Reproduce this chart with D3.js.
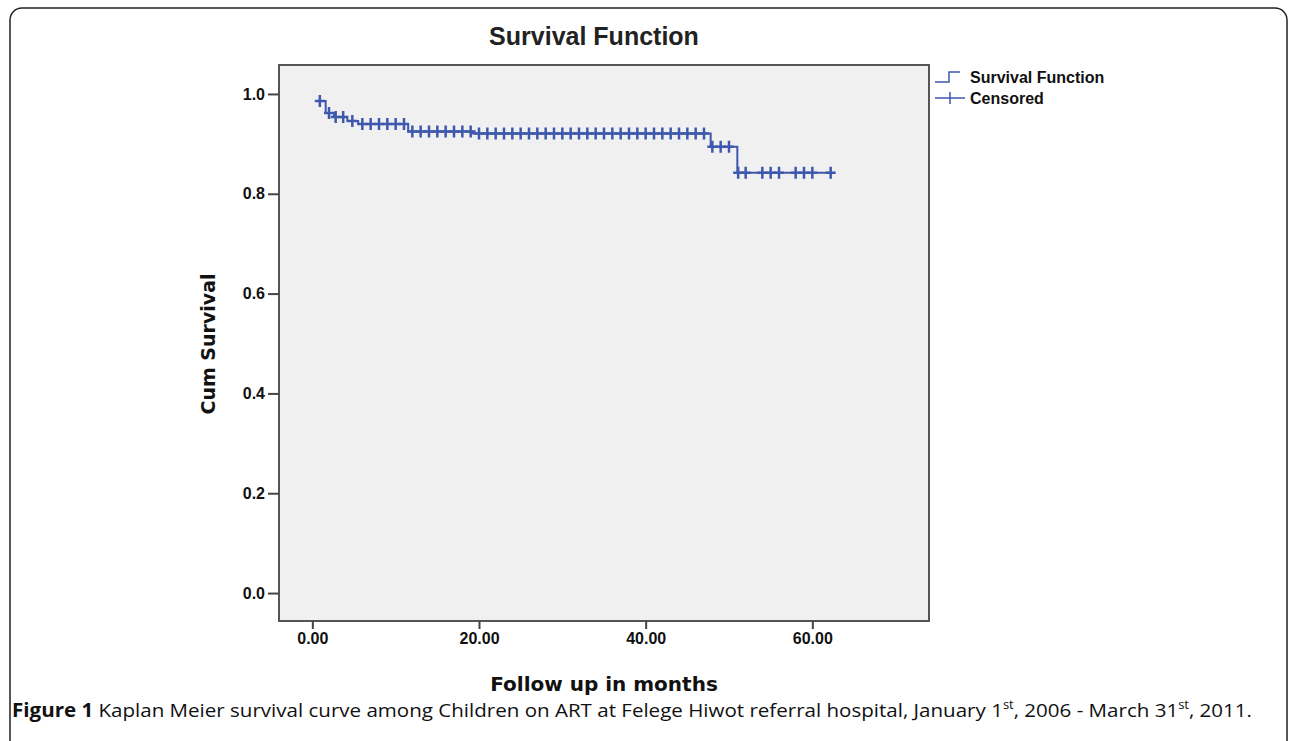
<!DOCTYPE html>
<html>
<head>
<meta charset="utf-8">
<script src="https://cdn.jsdelivr.net/npm/d3@7"></script>
<style>
  body { margin: 0; background: #fff; }
  svg { display: block; }
</style>
</head>
<body>
<div id="chart"></div>
<script>
// survival curve: time (months) where the step lands, and the value after it
const stepTimes = [0.8, 1.6, 2.6, 4.2, 5.5, 11.5, 19.2, 47.8, 51.0];
const stepSurv = [0.986, 0.962, 0.954, 0.946, 0.940, 0.925, 0.921, 0.894, 0.842];
const endTime = 62.2;

// censored observations (months)
const censored = [0.9, 2.0, 2.8, 3.7, 4.8, 6, 7, 8, 9, 10, 11, 12, 13, 14, 15, 16, 17, 18, 19, 20,
  21, 22, 23, 24, 25, 26, 27, 28, 29, 30, 31, 32, 33, 34, 35, 36, 37, 38, 39, 40,
  41, 42, 43, 44, 45, 46, 47, 48, 49, 50, 51.1, 52, 54, 55, 56, 58, 59, 60, 62.2];

const xTicks = [0, 20, 40, 60];
const yTicks = [0.0, 0.2, 0.4, 0.6, 0.8, 1.0];

const width = 1290, height = 741;
const plot = { left: 279, right: 929, top: 65, bottom: 621 };
const blue = "#3d58ad";

const svg = d3.select("#chart").append("svg")
  .attr("width", width)
  .attr("height", height);

// outer frame
svg.append("rect")
  .attr("x", 10).attr("y", 8)
  .attr("width", 1277).attr("height", 780)
  .attr("rx", 12)
  .attr("fill", "none")
  .attr("stroke", "#222")
  .attr("stroke-width", 1.5);

const x = d3.scaleLinear().domain([-4, 74]).range([plot.left, plot.right]);
const y = d3.scaleLinear().domain([-0.056, 1.058]).range([plot.bottom, plot.top]);

// plot background
svg.append("rect")
  .attr("x", plot.left).attr("y", plot.top)
  .attr("width", plot.right - plot.left)
  .attr("height", plot.bottom - plot.top)
  .attr("fill", "#f0f0f0")
  .attr("stroke", "#555")
  .attr("stroke-width", 2);

// axes
const yAxis = svg.append("g")
  .attr("transform", `translate(${plot.left},0)`)
  .call(d3.axisLeft(y).tickValues(yTicks).tickFormat(d3.format(".1f")).tickSize(11).tickPadding(3));
const xAxis = svg.append("g")
  .attr("transform", `translate(0,${plot.bottom})`)
  .call(d3.axisBottom(x).tickValues(xTicks).tickFormat(d3.format(".2f")).tickSize(8).tickPadding(4));

[yAxis, xAxis].forEach(function(g) {
  g.select(".domain").remove();
  g.selectAll(".tick line").attr("stroke", "#444").attr("stroke-width", 2);
  g.selectAll(".tick text")
    .attr("fill", "#111")
    .style("font-family", "Liberation Sans, Arial, sans-serif")
    .style("font-size", "16px")
    .style("font-weight", "bold");
});

// step function
function survAt(t) {
  let s = stepSurv[0];
  for (let i = 0; i < stepTimes.length; i++) {
    if (t >= stepTimes[i]) s = stepSurv[i];
  }
  return s;
}

const pts = [[stepTimes[0], stepSurv[0]]];
for (let i = 1; i < stepTimes.length; i++) {
  pts.push([stepTimes[i], stepSurv[i - 1]]);
  pts.push([stepTimes[i], stepSurv[i]]);
}
pts.push([endTime, stepSurv[stepSurv.length - 1]]);

const line = d3.line().x(d => x(d[0])).y(d => y(d[1]));

svg.append("path")
  .datum(pts)
  .attr("d", line)
  .attr("fill", "none")
  .attr("stroke", blue)
  .attr("stroke-width", 2);

// censored crosses
svg.append("g").selectAll("path")
  .data(censored)
  .join("path")
  .attr("d", function(t) {
    const cx = x(t), cy = y(survAt(t));
    return `M${cx - 5},${cy}H${cx + 5}M${cx},${cy - 6}V${cy + 6}`;
  })
  .attr("stroke", blue)
  .attr("stroke-width", 2.5)
  .attr("fill", "none");

// title and axis labels
svg.append("text")
  .attr("x", 594).attr("y", 45)
  .attr("text-anchor", "middle")
  .style("font-family", "Liberation Sans, Arial, sans-serif")
  .style("font-weight", "bold")
  .style("font-size", "25px")
  .attr("fill", "#222")
  .text("Survival Function");

svg.append("text")
  .attr("transform", "translate(215,344) rotate(-90)")
  .attr("text-anchor", "middle")
  .style("font-family", "DejaVu Sans, Verdana, sans-serif")
  .style("font-weight", "bold")
  .style("font-size", "19px")
  .attr("fill", "#111")
  .text("Cum Survival");

svg.append("text")
  .attr("x", 604).attr("y", 691)
  .attr("text-anchor", "middle")
  .style("font-family", "DejaVu Sans, Verdana, sans-serif")
  .style("font-weight", "bold")
  .style("font-size", "20px")
  .attr("fill", "#111")
  .text("Follow up in months");

// legend
const lg = svg.append("g").attr("transform", "translate(935,0)");
lg.append("path")
  .attr("d", "M0,82H14V72H25")
  .attr("fill", "none").attr("stroke", blue).attr("stroke-width", 1.5);
lg.append("path")
  .attr("d", "M0,98H30M15,92V104")
  .attr("fill", "none").attr("stroke", blue).attr("stroke-width", 1.5);
lg.selectAll("text")
  .data(["Survival Function", "Censored"])
  .join("text")
  .attr("x", 35)
  .attr("y", (d, i) => 83 + i * 21)
  .style("font-family", "Liberation Sans, Arial, sans-serif")
  .style("font-size", "16px")
  .style("font-weight", "bold")
  .attr("fill", "#111")
  .text(d => d);

// caption
const cap = svg.append("text")
  .attr("x", 12).attr("y", 717)
  .style("font-family", "Open Sans, Noto Sans, sans-serif")
  .style("font-size", "19px")
  .attr("fill", "#111")
  .attr("textLength", 1240)
  .attr("lengthAdjust", "spacingAndGlyphs");
cap.append("tspan").style("font-weight", "bold").text("Figure 1");
cap.append("tspan").text(" Kaplan Meier survival curve among Children on ART at Felege Hiwot referral hospital, January 1");
cap.append("tspan").attr("dy", -8).style("font-size", "12px").text("st");
cap.append("tspan").attr("dy", 8).text(", 2006 - March 31");
cap.append("tspan").attr("dy", -8).style("font-size", "12px").text("st");
cap.append("tspan").attr("dy", 8).text(", 2011.");
</script>
</body>
</html>
